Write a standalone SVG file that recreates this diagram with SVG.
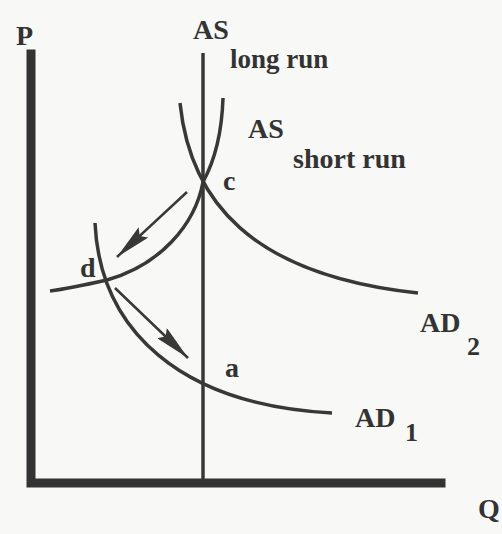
<svg xmlns="http://www.w3.org/2000/svg" width="502" height="534" viewBox="0 0 502 534">
<defs>
<style>
.t{font-family:"Liberation Serif","Times New Roman",serif;font-weight:bold;fill:#333;font-size:28px}
.s{font-size:27px}
.n{font-size:26px}
.curve{fill:none;stroke:#383838;stroke-width:3.5;stroke-linecap:butt}
.axis{fill:none;stroke:#333;stroke-width:9;stroke-linecap:square}
.arrow{fill:none;stroke:#383838;stroke-width:2.5}
</style>
<marker id="head" viewBox="0 0 36 14" refX="36" refY="7" markerWidth="36" markerHeight="14" markerUnits="userSpaceOnUse" orient="auto">
<path d="M0,0 L36,7 L0,14 L5,7 z" fill="#383838"/>
</marker>
</defs>
<rect width="502" height="534" fill="#f8f8f6"/>
<g id="axes">
<path class="axis" d="M31,54 L31,483 L441,483"/>
<text class="t" x="16" y="45">P</text>
<text class="t" x="478" y="518">Q</text>
</g>
<g id="as-long-run">
<line class="curve" x1="203" y1="53" x2="203" y2="480"/>
<text class="t" x="193" y="39">AS</text>
<text class="t s" x="230" y="68">long run</text>
</g>
<g id="as-short-run">
<path class="curve" d="M223,98 C222,130 215,160 203,182 C195,225 160,265 107,280 C80,286 65,289 50,291"/>
<text class="t" x="248" y="138">AS</text>
<text class="t" x="293" y="168">short run</text>
</g>
<g id="ad2">
<path class="curve" d="M180,103 C190,200 250,275 418,293"/>
<text class="t" x="420" y="332">AD</text>
<text class="t n" x="467" y="355">2</text>
</g>
<g id="ad1">
<path class="curve" d="M95,223 C100,330 180,405 332,413"/>
<text class="t" x="355" y="427">AD</text>
<text class="t n" x="405" y="441">1</text>
</g>
<g id="point-c"><text class="t" x="223" y="190">c</text></g>
<g id="point-d"><text class="t" x="80" y="277">d</text></g>
<g id="point-a"><text class="t" x="225" y="377">a</text></g>
<g id="connectors">
<line class="arrow" x1="187" y1="192" x2="117" y2="257" marker-end="url(#head)"/>
<line class="arrow" x1="115" y1="288" x2="188" y2="358" marker-end="url(#head)"/>
</g>
</svg>
